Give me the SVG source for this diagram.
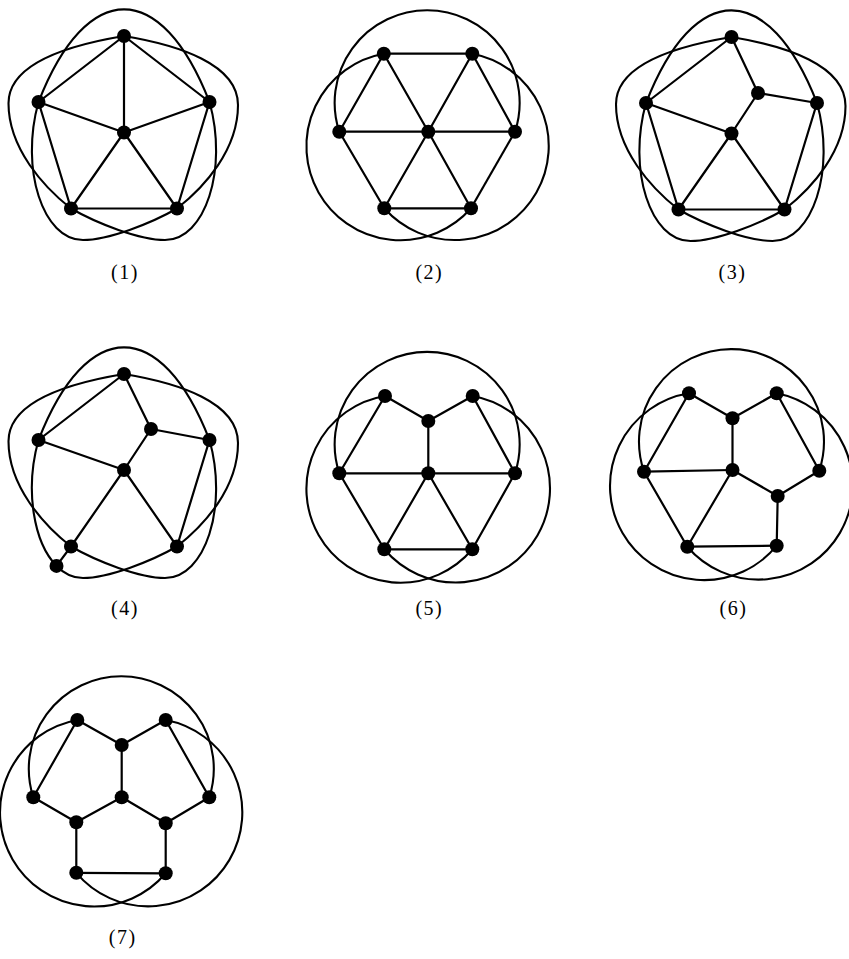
<svg xmlns="http://www.w3.org/2000/svg" width="849" height="959" viewBox="0 0 849 959">
<style>
.e{stroke:#000;stroke-width:2.2;stroke-linecap:round;fill:none}
.k{stroke:#000;stroke-width:2.1;fill:none}
.n{fill:#000}
.lbl{font-family:"Liberation Serif",serif;font-size:20px;text-anchor:middle;fill:#000;letter-spacing:1.5px}
</style>
<rect width="849" height="959" fill="#fff"/>

<!-- Figure 1 -->
<g id="fig1">
 <g id="fig1-connectors">
  <path class="k" d="M38.5,102 C86.7,-21.5 161.3,-21.5 209.5,102"/>
  <path class="k" d="M124,36 C69.8,45 8.5,63.3 8.5,103.3 C8.5,148.3 43.7,187.1 71,208.5"/>
  <path class="k" d="M124,36 C178.2,45 238,64 238,105 C238,150 204.3,187.1 177,208.5"/>
  <path class="k" d="M38.5,102 C19.7,169.4 43,240 83,240 C108,240 150.8,223.6 177,208.5"/>
  <path class="k" d="M209.5,102 C228.3,169.4 205,240 165,240 C140,240 97.2,223.6 71,208.5"/>
  <line class="e" x1="124" y1="36" x2="38.5" y2="102"/>
  <line class="e" x1="124" y1="36" x2="209.5" y2="102"/>
  <line class="e" x1="38.5" y1="102" x2="71" y2="208.5"/>
  <line class="e" x1="209.5" y1="102" x2="177" y2="208.5"/>
  <line class="e" x1="71" y1="208.5" x2="177" y2="208.5"/>
  <line class="e" x1="124" y1="132.5" x2="124" y2="36"/>
  <line class="e" x1="124" y1="132.5" x2="38.5" y2="102"/>
  <line class="e" x1="124" y1="132.5" x2="209.5" y2="102"/>
  <line class="e" x1="124" y1="132.5" x2="71" y2="208.5"/>
  <line class="e" x1="124" y1="132.5" x2="177" y2="208.5"/>
 </g>
 <g id="fig1-T"><circle class="n" cx="124" cy="36" r="7"/></g>
 <g id="fig1-L"><circle class="n" cx="38.5" cy="102" r="7"/></g>
 <g id="fig1-R"><circle class="n" cx="209.5" cy="102" r="7"/></g>
 <g id="fig1-C"><circle class="n" cx="124" cy="132.5" r="7"/></g>
 <g id="fig1-BL"><circle class="n" cx="71" cy="208.5" r="7"/></g>
 <g id="fig1-BR"><circle class="n" cx="177" cy="208.5" r="7"/></g>
 <text class="lbl" x="125" y="279">(1)</text>
</g>

<!-- Figure 3 -->
<g id="fig3" transform="translate(607.5,1)">
 <g id="fig3-connectors">
  <path class="k" d="M38.5,102 C86.7,-21.5 161.3,-21.5 209.5,102"/>
  <path class="k" d="M124,36 C69.8,45 8.5,63.3 8.5,103.3 C8.5,148.3 43.7,187.1 71,208.5"/>
  <path class="k" d="M124,36 C178.2,45 238,64 238,105 C238,150 204.3,187.1 177,208.5"/>
  <path class="k" d="M38.5,102 C19.7,169.4 43,240 83,240 C108,240 150.8,223.6 177,208.5"/>
  <path class="k" d="M209.5,102 C228.3,169.4 205,240 165,240 C140,240 97.2,223.6 71,208.5"/>
  <line class="e" x1="124" y1="36" x2="38.5" y2="102"/>
  <line class="e" x1="124" y1="36" x2="150.5" y2="92"/>
  <line class="e" x1="150.5" y1="92" x2="209.5" y2="102"/>
  <line class="e" x1="150.5" y1="92" x2="124" y2="132.5"/>
  <line class="e" x1="38.5" y1="102" x2="71" y2="208.5"/>
  <line class="e" x1="209.5" y1="102" x2="177" y2="208.5"/>
  <line class="e" x1="71" y1="208.5" x2="177" y2="208.5"/>
  <line class="e" x1="124" y1="132.5" x2="38.5" y2="102"/>
  <line class="e" x1="124" y1="132.5" x2="71" y2="208.5"/>
  <line class="e" x1="124" y1="132.5" x2="177" y2="208.5"/>
 </g>
 <g id="fig3-T"><circle class="n" cx="124" cy="36" r="7"/></g>
 <g id="fig3-L"><circle class="n" cx="38.5" cy="102" r="7"/></g>
 <g id="fig3-R"><circle class="n" cx="209.5" cy="102" r="7"/></g>
 <g id="fig3-M"><circle class="n" cx="150.5" cy="92" r="7"/></g>
 <g id="fig3-C"><circle class="n" cx="124" cy="132.5" r="7"/></g>
 <g id="fig3-BL"><circle class="n" cx="71" cy="208.5" r="7"/></g>
 <g id="fig3-BR"><circle class="n" cx="177" cy="208.5" r="7"/></g>
 <text class="lbl" x="125" y="278">(3)</text>
</g>

<!-- Figure 4 -->
<g id="fig4" transform="translate(0,338)">
 <g id="fig4-connectors">
  <path class="k" d="M38.5,102 C86.7,-21.5 161.3,-21.5 209.5,102"/>
  <path class="k" d="M124,36 C69.8,45 8.5,63.3 8.5,103.3 C8.5,148.3 43.7,187.1 71,208.5"/>
  <path class="k" d="M124,36 C178.2,45 238,64 238,105 C238,150 204.3,187.1 177,208.5"/>
  <path class="k" d="M38.5,102 C24.4,152.55 34,204.9 56.5,227.9"/>
  <path class="k" d="M56.5,227.9 C64.05,235.6 73,240 83,240 C108,240 150.8,223.6 177,208.5"/>
  <path class="k" d="M209.5,102 C228.3,169.4 205,240 165,240 C140,240 97.2,223.6 71,208.5"/>
  <line class="e" x1="124" y1="36" x2="38.5" y2="102"/>
  <line class="e" x1="124" y1="36" x2="151" y2="91"/>
  <line class="e" x1="151" y1="91" x2="209.5" y2="102"/>
  <line class="e" x1="151" y1="91" x2="124" y2="132"/>
  <line class="e" x1="209.5" y1="102" x2="177" y2="208.5"/>
  <line class="e" x1="71" y1="208.5" x2="56.5" y2="227.9"/>
  <line class="e" x1="124" y1="132" x2="38.5" y2="102"/>
  <line class="e" x1="124" y1="132" x2="71" y2="208.5"/>
  <line class="e" x1="124" y1="132" x2="177" y2="208.5"/>
 </g>
 <g id="fig4-T"><circle class="n" cx="124" cy="36" r="7"/></g>
 <g id="fig4-L"><circle class="n" cx="38.5" cy="102" r="7"/></g>
 <g id="fig4-R"><circle class="n" cx="209.5" cy="102" r="7"/></g>
 <g id="fig4-M"><circle class="n" cx="151" cy="91" r="7"/></g>
 <g id="fig4-C"><circle class="n" cx="124" cy="132" r="7"/></g>
 <g id="fig4-BL"><circle class="n" cx="71" cy="208.5" r="7"/></g>
 <g id="fig4-BR"><circle class="n" cx="177" cy="208.5" r="7"/></g>
 <g id="fig4-X"><circle class="n" cx="56.5" cy="227.9" r="7"/></g>
 <text class="lbl" x="125" y="277">(4)</text>
</g>

<!-- Figure 2 -->
<g id="fig2" transform="translate(428.3,131.7)">
 <g id="fig2-connectors">
  <path class="k" d="M-89,0 A92.5,92.5 0 1 1 86.7,0"/>
  <path class="k" d="M-44.5,-78 A94,94 0 1 0 42.7,76.6"/>
  <path class="k" d="M44,-78 A94,94 0 1 1 -44,76.6"/>
  <line class="e" x1="-44.5" y1="-78" x2="44" y2="-78"/>
  <line class="e" x1="44" y1="-78" x2="86.7" y2="0"/>
  <line class="e" x1="86.7" y1="0" x2="42.7" y2="76.6"/>
  <line class="e" x1="42.7" y1="76.6" x2="-44" y2="76.6"/>
  <line class="e" x1="-44" y1="76.6" x2="-89" y2="0"/>
  <line class="e" x1="-89" y1="0" x2="-44.5" y2="-78"/>
  <line class="e" x1="0" y1="0" x2="-44.5" y2="-78"/>
  <line class="e" x1="0" y1="0" x2="44" y2="-78"/>
  <line class="e" x1="0" y1="0" x2="86.7" y2="0"/>
  <line class="e" x1="0" y1="0" x2="42.7" y2="76.6"/>
  <line class="e" x1="0" y1="0" x2="-44" y2="76.6"/>
  <line class="e" x1="0" y1="0" x2="-89" y2="0"/>
 </g>
 <g id="fig2-TL"><circle class="n" cx="-44.5" cy="-78" r="7"/></g>
 <g id="fig2-TR"><circle class="n" cx="44" cy="-78" r="7"/></g>
 <g id="fig2-L"><circle class="n" cx="-89" cy="0" r="7"/></g>
 <g id="fig2-C"><circle class="n" cx="0" cy="0" r="7"/></g>
 <g id="fig2-R"><circle class="n" cx="86.7" cy="0" r="7"/></g>
 <g id="fig2-BL"><circle class="n" cx="-44" cy="76.6" r="7"/></g>
 <g id="fig2-BR"><circle class="n" cx="42.7" cy="76.6" r="7"/></g>
 <text class="lbl" x="1" y="147.5">(2)</text>
</g>

<!-- Figure 5 -->
<g id="fig5" transform="translate(428.3,473.3)">
 <g id="fig5-connectors">
  <path class="k" d="M-89,0 A92.5,92.5 0 1 1 86.7,0"/>
  <path class="k" d="M-43.3,-77.3 A94,94 0 1 0 44,76"/>
  <path class="k" d="M44.4,-77.3 A94,94 0 1 1 -44,76"/>
  <line class="e" x1="-43.3" y1="-77.3" x2="0" y2="-52.3"/>
  <line class="e" x1="0" y1="-52.3" x2="44.4" y2="-77.3"/>
  <line class="e" x1="0" y1="-52.3" x2="0" y2="0"/>
  <line class="e" x1="-43.3" y1="-77.3" x2="-89" y2="0"/>
  <line class="e" x1="44.4" y1="-77.3" x2="86.7" y2="0"/>
  <line class="e" x1="-89" y1="0" x2="86.7" y2="0"/>
  <line class="e" x1="-89" y1="0" x2="-44" y2="76"/>
  <line class="e" x1="0" y1="0" x2="-44" y2="76"/>
  <line class="e" x1="0" y1="0" x2="44" y2="76"/>
  <line class="e" x1="86.7" y1="0" x2="44" y2="76"/>
  <line class="e" x1="-44" y1="76" x2="44" y2="76"/>
 </g>
 <g id="fig5-TL"><circle class="n" cx="-43.3" cy="-77.3" r="7"/></g>
 <g id="fig5-TR"><circle class="n" cx="44.4" cy="-77.3" r="7"/></g>
 <g id="fig5-M"><circle class="n" cx="0" cy="-52.3" r="7"/></g>
 <g id="fig5-L"><circle class="n" cx="-89" cy="0" r="7"/></g>
 <g id="fig5-C"><circle class="n" cx="0" cy="0" r="7"/></g>
 <g id="fig5-R"><circle class="n" cx="86.7" cy="0" r="7"/></g>
 <g id="fig5-BL"><circle class="n" cx="-44" cy="76" r="7"/></g>
 <g id="fig5-BR"><circle class="n" cx="44" cy="76" r="7"/></g>
 <text class="lbl" x="1" y="142">(5)</text>
</g>

<!-- Figure 6 -->
<g id="fig6" transform="translate(732.5,471)">
 <g id="fig6-connectors">
  <path class="k" d="M-88.5,0.7 A92.5,92.5 0 1 1 86.8,-0.3"/>
  <path class="k" d="M-43.5,-77.7 A94,94 0 1 0 44.2,74.7"/>
  <path class="k" d="M44.2,-77.7 A94,94 0 1 1 -45.2,75.7"/>
  <line class="e" x1="-43.5" y1="-77.7" x2="0" y2="-52.7"/>
  <line class="e" x1="0" y1="-52.7" x2="44.2" y2="-77.7"/>
  <line class="e" x1="0" y1="-52.7" x2="0" y2="-1"/>
  <line class="e" x1="-43.5" y1="-77.7" x2="-88.5" y2="0.7"/>
  <line class="e" x1="44.2" y1="-77.7" x2="86.8" y2="-0.3"/>
  <line class="e" x1="-88.5" y1="0.7" x2="0" y2="-1"/>
  <line class="e" x1="-88.5" y1="0.7" x2="-45.2" y2="75.7"/>
  <line class="e" x1="0" y1="-1" x2="-45.2" y2="75.7"/>
  <line class="e" x1="0" y1="-1" x2="45.2" y2="25"/>
  <line class="e" x1="45.2" y1="25" x2="86.8" y2="-0.3"/>
  <line class="e" x1="45.2" y1="25" x2="44.2" y2="74.7"/>
  <line class="e" x1="-45.2" y1="75.7" x2="44.2" y2="74.7"/>
 </g>
 <g id="fig6-TL"><circle class="n" cx="-43.5" cy="-77.7" r="7"/></g>
 <g id="fig6-TR"><circle class="n" cx="44.2" cy="-77.7" r="7"/></g>
 <g id="fig6-M"><circle class="n" cx="0" cy="-52.7" r="7"/></g>
 <g id="fig6-L"><circle class="n" cx="-88.5" cy="0.7" r="7"/></g>
 <g id="fig6-C"><circle class="n" cx="0" cy="-1" r="7"/></g>
 <g id="fig6-R"><circle class="n" cx="86.8" cy="-0.3" r="7"/></g>
 <g id="fig6-BRm"><circle class="n" cx="45.2" cy="25" r="7"/></g>
 <g id="fig6-BL"><circle class="n" cx="-45.2" cy="75.7" r="7"/></g>
 <g id="fig6-BR"><circle class="n" cx="44.2" cy="74.7" r="7"/></g>
 <text class="lbl" x="1" y="144">(6)</text>
</g>

<!-- Figure 7 -->
<g id="fig7" transform="translate(121.7,797.3)">
 <g id="fig7-connectors">
  <path class="k" d="M-88.4,0 A92.5,92.5 0 1 1 87.6,0"/>
  <path class="k" d="M-44.4,-77.3 A94,94 0 1 0 44,76"/>
  <path class="k" d="M44,-77.3 A94,94 0 1 1 -45.4,75.5"/>
  <line class="e" x1="-44.4" y1="-77.3" x2="0" y2="-52.3"/>
  <line class="e" x1="0" y1="-52.3" x2="44" y2="-77.3"/>
  <line class="e" x1="0" y1="-52.3" x2="0" y2="0"/>
  <line class="e" x1="-44.4" y1="-77.3" x2="-88.4" y2="0"/>
  <line class="e" x1="44" y1="-77.3" x2="87.6" y2="0"/>
  <line class="e" x1="-88.4" y1="0" x2="-45.4" y2="25"/>
  <line class="e" x1="-45.4" y1="25" x2="0" y2="0"/>
  <line class="e" x1="0" y1="0" x2="44" y2="26"/>
  <line class="e" x1="44" y1="26" x2="87.6" y2="0"/>
  <line class="e" x1="-45.4" y1="25" x2="-45.4" y2="75.5"/>
  <line class="e" x1="44" y1="26" x2="44" y2="76"/>
  <line class="e" x1="-45.4" y1="75.5" x2="44" y2="76"/>
 </g>
 <g id="fig7-TL"><circle class="n" cx="-44.4" cy="-77.3" r="7"/></g>
 <g id="fig7-TR"><circle class="n" cx="44" cy="-77.3" r="7"/></g>
 <g id="fig7-M"><circle class="n" cx="0" cy="-52.3" r="7"/></g>
 <g id="fig7-L"><circle class="n" cx="-88.4" cy="0" r="7"/></g>
 <g id="fig7-C"><circle class="n" cx="0" cy="0" r="7"/></g>
 <g id="fig7-R"><circle class="n" cx="87.6" cy="0" r="7"/></g>
 <g id="fig7-ML"><circle class="n" cx="-45.4" cy="25" r="7"/></g>
 <g id="fig7-MR"><circle class="n" cx="44" cy="26" r="7"/></g>
 <g id="fig7-BL"><circle class="n" cx="-45.4" cy="75.5" r="7"/></g>
 <g id="fig7-BR"><circle class="n" cx="44" cy="76" r="7"/></g>
 <text class="lbl" x="1" y="147">(7)</text>
</g>
</svg>
